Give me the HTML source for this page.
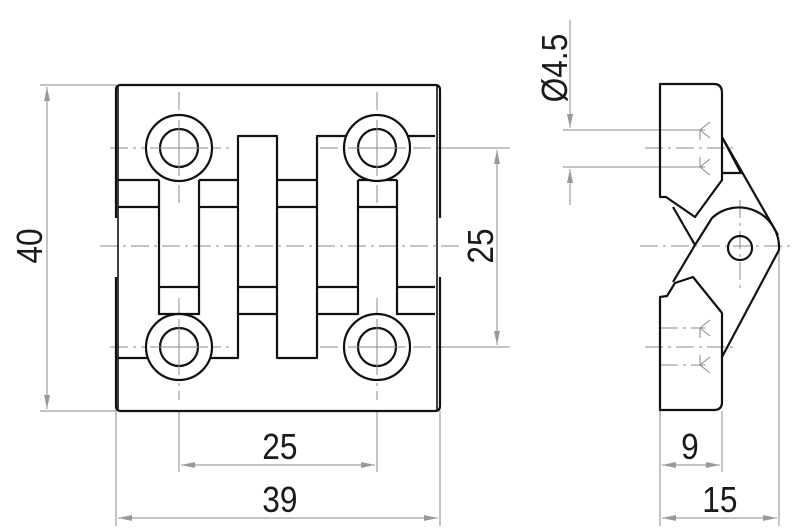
<!DOCTYPE html>
<html><head><meta charset="utf-8"><style>
html,body{margin:0;padding:0;background:#fff;}
svg{display:block;}
text{font-family:"Liberation Sans",sans-serif;font-size:36px;fill:#1a1a1a;}
</style></head><body>
<svg width="800" height="532" viewBox="0 0 800 532" xmlns="http://www.w3.org/2000/svg">
<defs>
<marker id="a" viewBox="0 0 14 6" refX="14" refY="3" markerWidth="14" markerHeight="6" orient="auto-start-reverse" markerUnits="userSpaceOnUse"><path d="M0,0 L14,3 L0,6 z" fill="#999"/></marker>
</defs>
<g stroke="#8a8a8a" stroke-width="1" fill="none">
<line x1="40" y1="85" x2="116" y2="85"/><line x1="40" y1="411" x2="116" y2="411"/>
<line x1="47" y1="87" x2="47" y2="409" marker-start="url(#a)" marker-end="url(#a)"/>
<line x1="440" y1="148" x2="510" y2="148"/><line x1="440" y1="347" x2="510" y2="347"/>
<line x1="497" y1="150" x2="497" y2="345" marker-start="url(#a)" marker-end="url(#a)"/>
<line x1="116" y1="411" x2="116" y2="526"/><line x1="440" y1="411" x2="440" y2="526"/>
<line x1="179" y1="411" x2="179" y2="472"/><line x1="377" y1="411" x2="377" y2="472"/>
<line x1="181" y1="465" x2="375" y2="465" marker-start="url(#a)" marker-end="url(#a)"/>
<line x1="118" y1="518" x2="438" y2="518" marker-start="url(#a)" marker-end="url(#a)"/>
<line x1="660" y1="411" x2="660" y2="526"/><line x1="722" y1="411" x2="722" y2="472"/><line x1="779" y1="250" x2="779" y2="526"/>
<line x1="662" y1="465" x2="720" y2="465" marker-start="url(#a)" marker-end="url(#a)"/>
<line x1="662" y1="518" x2="777" y2="518" marker-start="url(#a)" marker-end="url(#a)"/>
<line x1="563" y1="130" x2="700" y2="130"/><line x1="563" y1="167" x2="700" y2="167"/>
<line x1="570" y1="20" x2="570" y2="128" marker-end="url(#a)"/>
<line x1="570" y1="205" x2="570" y2="169" marker-end="url(#a)"/>
</g>
<g stroke="#8a8a8a" stroke-width="1" fill="none" stroke-dasharray="18,5,3,5">
<line x1="110" y1="148" x2="230" y2="148"/><line x1="320" y1="148" x2="440" y2="148"/>
<line x1="110" y1="347" x2="230" y2="347"/><line x1="320" y1="347" x2="440" y2="347"/>
<line x1="100" y1="246" x2="460" y2="246"/>
<line x1="179" y1="92" x2="179" y2="205"/><line x1="377" y1="92" x2="377" y2="205"/>
<line x1="179" y1="298" x2="179" y2="400"/><line x1="377" y1="298" x2="377" y2="400"/>
<line x1="640" y1="246" x2="795" y2="246"/><line x1="740" y1="200" x2="740" y2="290"/>
<line x1="645" y1="148" x2="735" y2="148"/><line x1="645" y1="347" x2="735" y2="347"/>
<line x1="660" y1="130" x2="705" y2="130"/><line x1="660" y1="167" x2="705" y2="167"/>
<line x1="660" y1="328" x2="705" y2="328"/><line x1="660" y1="365" x2="705" y2="365"/>
</g>
<g stroke="#8a8a8a" stroke-width="1" fill="none">
<path d="M700,140 L700,130 L710,122 M700,130 L710,138"/>
<path d="M700,157 L700,167 L710,175 M700,167 L710,159"/>
<path d="M700,338 L700,328 L710,320 M700,328 L710,336"/>
<path d="M700,355 L700,365 L710,373 M700,365 L710,357"/>
</g>
<g stroke="#111" stroke-width="2.2" fill="none" stroke-linejoin="round">
<path d="M116,218 L116,90 Q116,85 121,85 L435,85 Q440,85 440,90 L440,218"/>
<path d="M116,277 L116,406 Q116,411 121,411 L435,411 Q440,411 440,406 L440,277"/>
<line x1="118" y1="85" x2="118" y2="411" stroke-width="1.6"/>
<line x1="437" y1="85" x2="437" y2="411" stroke-width="1.6"/>
<path d="M118,358 L238,358 L238,136 L277,136 L277,358 L317,358 L317,136 L435,136"/>
<path d="M118,180 H159 M118,207 H159 M199,180 H238 M199,207 H238 M277,180 H317 M277,207 H317 M358,180 H397 M358,207 H397"/>
<path d="M159,287 H199 M159,314 H199 M238,287 H277 M238,314 H277 M317,287 H358 M317,314 H358 M397,287 H435 M397,314 H435"/>
<path d="M159,180 V315 M199,180 V315 M358,180 V315 M397,180 V315"/>
</g>
<g stroke="#111" stroke-width="2.2" fill="#fff">
<circle cx="179" cy="148" r="33"/><circle cx="377" cy="148" r="33"/>
<circle cx="179" cy="347" r="33"/><circle cx="377" cy="347" r="33"/>
<circle cx="179" cy="148" r="19"/><circle cx="377" cy="148" r="19"/>
<circle cx="179" cy="347" r="19"/><circle cx="377" cy="347" r="19"/>
</g>
<g stroke="#8a8a8a" stroke-width="1">
<line x1="150" y1="148" x2="208" y2="148"/><line x1="348" y1="148" x2="406" y2="148"/>
<line x1="150" y1="347" x2="208" y2="347"/><line x1="348" y1="347" x2="406" y2="347"/>
<line x1="179" y1="120" x2="179" y2="176"/><line x1="377" y1="120" x2="377" y2="176"/>
<line x1="179" y1="319" x2="179" y2="375"/><line x1="377" y1="319" x2="377" y2="375"/>
</g>
<g stroke="#111" stroke-width="2.2" fill="none" stroke-linejoin="round">
<path d="M660,197 L660,84 L714,84 Q722,84 722,93 L722,180 L695,217 L666,197 Z"/>
<path d="M722,137 L741,173 L722,173"/>
<path d="M722,137 L778,235"/>
<path d="M673,207 L695,245"/>
<path d="M695,245 L712,218 A40,40 0 0 1 779,250 L722,357"/>
<path d="M695,245 L673,282"/>
<path d="M660,410 L660,297 L667,296 L675,283 L693,277 L722,313 L722,402 Q722,410 714,410 Z"/>
<circle cx="740" cy="248" r="12"/>
</g>
<g transform="scale(0.88,1)">
<text x="318" y="459" text-anchor="middle">25</text>
<text x="318" y="512" text-anchor="middle">39</text>
<text x="784" y="459" text-anchor="middle">9</text>
<text x="818" y="512" text-anchor="middle">15</text>
</g>
<text transform="translate(42,246) rotate(-90) scale(0.88,1)" text-anchor="middle">40</text>
<text transform="translate(493,246) rotate(-90) scale(0.88,1)" text-anchor="middle">25</text>
<text transform="translate(567,68) rotate(-90) scale(0.88,1)" text-anchor="middle">Ø4.5</text>
</svg>
</body></html>
